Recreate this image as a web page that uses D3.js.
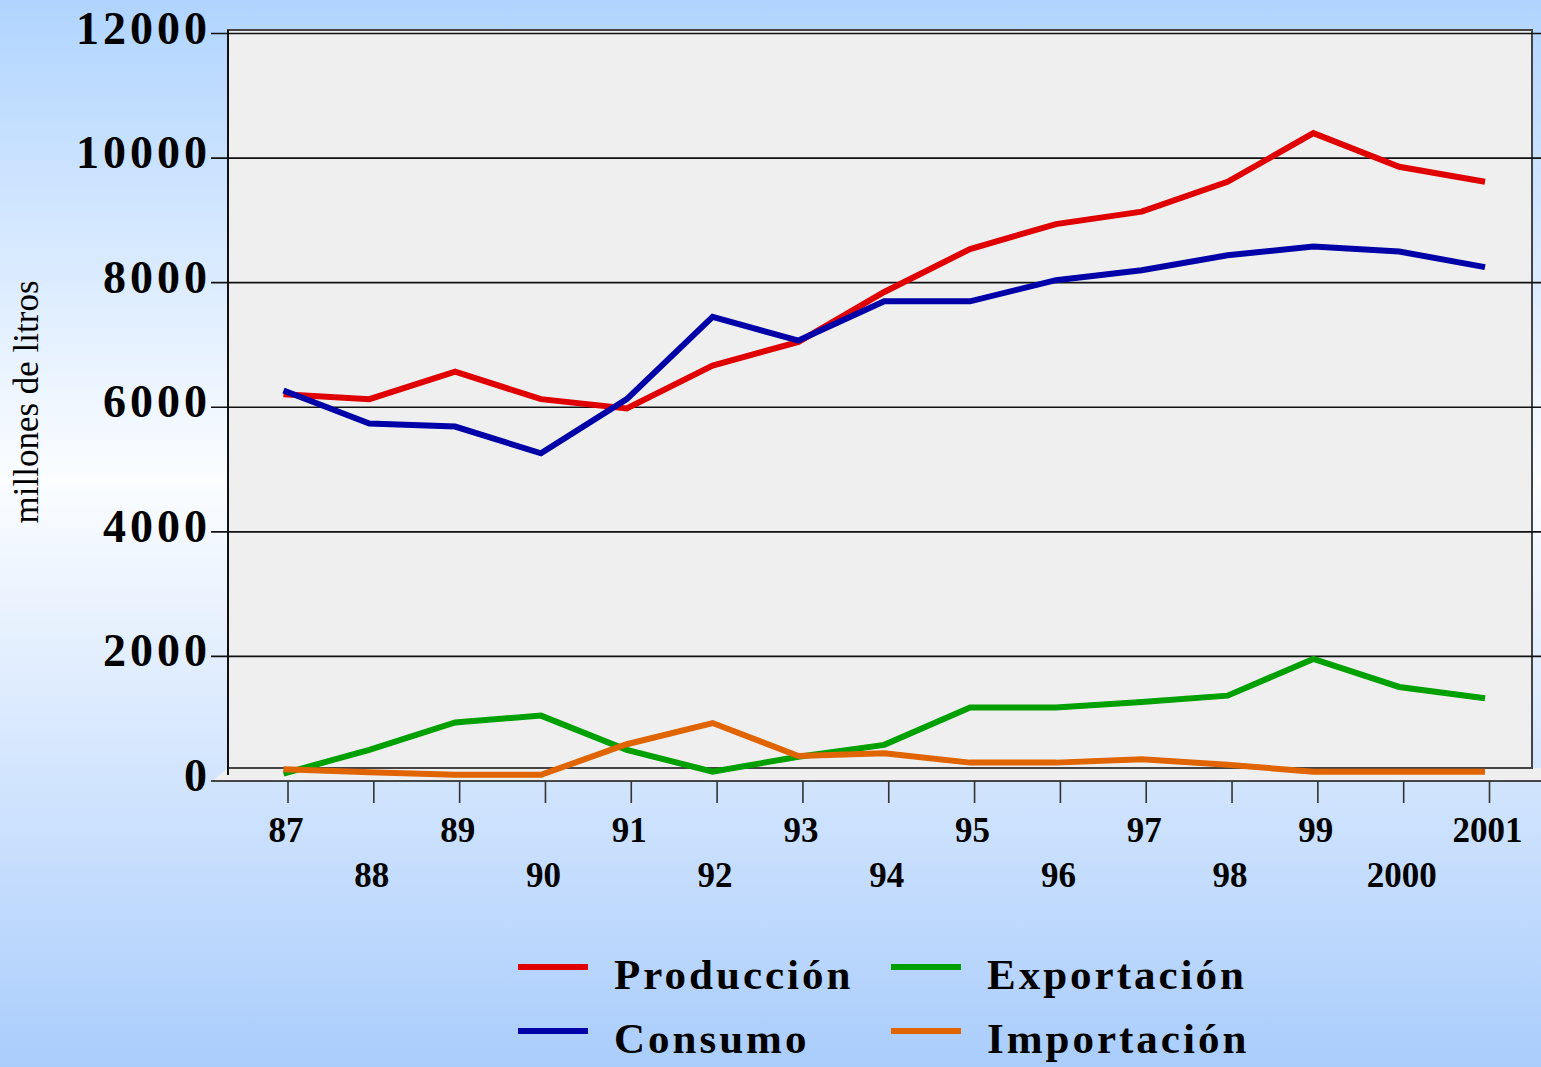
<!DOCTYPE html>
<html>
<head>
<meta charset="utf-8">
<script src="https://cdn.jsdelivr.net/npm/d3@7"></script>
<style>
  html, body { margin: 0; padding: 0; overflow: hidden; }
  #chart { width: 1541px; height: 1067px; }
  text { font-family: "Liberation Serif", "Times New Roman", serif; }
</style>
</head>
<body>
<div id="chart"></div>
<script>
// values (millones de litros)
const years = ['87', '88', '89', '90', '91', '92', '93', '94', '95', '96', '97', '98', '99', '2000', '2001'];
const produccion = [6210, 6130, 6570, 6130, 5980, 6670, 7050, 7850, 8540, 8940, 9140, 9620, 10400, 9860, 9620];
const consumo = [6270, 5740, 5690, 5260, 6130, 7450, 7070, 7700, 7700, 8040, 8200, 8440, 8580, 8500, 8250];
const exportacion = [120, 500, 940, 1050, 500, 150, 390, 580, 1180, 1180, 1270, 1370, 1960, 1510, 1330];
const importacion = [190, 140, 100, 100, 590, 930, 400, 445, 295, 295, 350, 260, 150, 150, 150];
const yTicks = [0, 2000, 4000, 6000, 8000, 10000, 12000];

const series = [
  { name: 'Producción', values: produccion, color: '#e00000' },
  { name: 'Consumo', values: consumo, color: '#0000a8' },
  { name: 'Exportación', values: exportacion, color: '#00a000' },
  { name: 'Importación', values: importacion, color: '#e06400' }
];

var width = 1541, height = 1067;

var svg = d3.select('#chart').append('svg')
  .attr('width', width)
  .attr('height', height);

// background gradient
var grad = svg.append('defs').append('linearGradient')
  .attr('id', 'bg').attr('x1', 0).attr('y1', 0).attr('x2', 0).attr('y2', 1);
grad.append('stop').attr('offset', '0%').attr('stop-color', '#b0d4ff');
grad.append('stop').attr('offset', '45%').attr('stop-color', '#fbfdff');
grad.append('stop').attr('offset', '100%').attr('stop-color', '#aacdfc');
svg.append('rect').attr('width', width).attr('height', height).attr('fill', 'url(#bg)');

var x = d3.scalePoint().domain(years).range([287.5, 1489]);
var y = d3.scaleLinear().domain([0, 12000]).range([781, 33.5]);

var wallL = 228, wallR = 1532, wallT = 30, wallB = 768;

// floor strip and back wall
svg.append('polygon')
  .attr('points', [[wallL, wallB], [width, wallB], [width, y(0)], [212, y(0)]].join(' '))
  .attr('fill', '#efefef');
svg.append('rect')
  .attr('x', wallL).attr('y', wallT)
  .attr('width', wallR - wallL).attr('height', wallB - wallT)
  .attr('fill', '#efefef')
  .attr('stroke', '#444').attr('stroke-width', 2);

// gridlines
svg.append('g').selectAll('line')
  .data(yTicks)
  .enter().append('line')
  .attr('x1', 211).attr('x2', width)
  .attr('y1', d => y(d)).attr('y2', d => y(d))
  .attr('stroke', '#111').attr('stroke-width', 1.6);

// left axis line
svg.append('line')
  .attr('x1', wallL).attr('x2', wallL)
  .attr('y1', wallT).attr('y2', 775)
  .attr('stroke', '#111').attr('stroke-width', 2);

// x axis
var xAxis = d3.axisBottom(x).tickSize(22).tickFormat('');
var gx = svg.append('g')
  .attr('transform', 'translate(0,' + y(0) + ')')
  .call(xAxis);
gx.select('.domain').remove();
gx.selectAll('.tick line').attr('stroke', '#333').attr('stroke-width', 1.6);

gx.selectAll('.tick').append('text')
  .attr('x', -2)
  .attr('y', (d, i) => i % 2 === 0 ? 61 : 106)
  .attr('fill', '#000')
  .attr('text-anchor', 'middle')
  .style('font-size', '35px')
  .style('font-weight', 'bold')
  .text(d => d);

// y tick labels
svg.append('g').selectAll('text')
  .data(yTicks)
  .enter().append('text')
  .attr('x', 211)
  .attr('y', d => y(d) + 10)
  .attr('text-anchor', 'end')
  .style('font-size', '46px')
  .style('font-weight', 'bold')
  .style('letter-spacing', '4px')
  .text(d => d);

// y title
svg.append('text')
  .attr('transform', 'translate(38,402) rotate(-90)')
  .attr('text-anchor', 'middle')
  .style('font-size', '35px')
  .text('millones de litros');

// lines
var line = d3.line()
  .x((d, i) => x(years[i]) - 4)
  .y(d => y(d));

svg.append('g').selectAll('path')
  .data(series)
  .enter().append('path')
  .attr('d', d => line(d.values))
  .attr('fill', 'none')
  .attr('stroke', d => d.color)
  .attr('stroke-width', 6)
  .attr('stroke-linejoin', 'miter');

// legend
var legend = svg.append('g').selectAll('g')
  .data(series)
  .enter().append('g')
  .attr('transform', (d, i) => 'translate(' + (i < 2 ? 518 : 891) + ',' + (i % 2 === 0 ? 967 : 1031) + ')');
legend.append('line')
  .attr('x1', 0).attr('x2', 70)
  .attr('stroke', d => d.color)
  .attr('stroke-width', 6);
legend.append('text')
  .attr('x', 96)
  .attr('y', 22)
  .style('font-size', '43px')
  .style('font-weight', 'bold')
  .style('letter-spacing', '3px')
  .text(d => d.name);
</script>
</body>
</html>
